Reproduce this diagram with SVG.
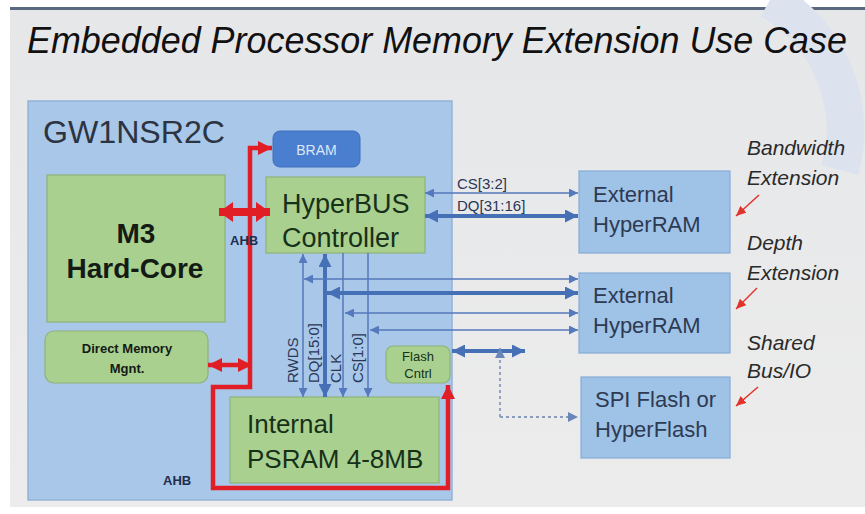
<svg xmlns="http://www.w3.org/2000/svg" width="865" height="514" viewBox="0 0 865 514">
<defs>
<linearGradient id="bg" x1="0" y1="0" x2="0" y2="1">
<stop offset="0" stop-color="#e6e7e9"/>
<stop offset="1" stop-color="#ececec"/>
</linearGradient>
<marker id="ab" viewBox="0 0 10 10" markerWidth="9" markerHeight="9" refX="10" refY="5" orient="auto-start-reverse" markerUnits="userSpaceOnUse"><path d="M0,0 L10,5 L0,10 z" fill="#5479bd"/></marker>
<marker id="abk" viewBox="0 0 10 10" markerWidth="13" markerHeight="13" refX="10" refY="5" orient="auto-start-reverse" markerUnits="userSpaceOnUse"><path d="M0,0 L10,5 L0,10 z" fill="#4670b6"/></marker>
<marker id="ad" viewBox="0 0 10 10" markerWidth="10" markerHeight="10" refX="10" refY="5" orient="auto-start-reverse" markerUnits="userSpaceOnUse"><path d="M0,0 L10,5 L0,10 z" fill="#6a86b8"/></marker>
<marker id="ar" viewBox="0 0 10 10" markerWidth="14" markerHeight="14" refX="10" refY="5" orient="auto-start-reverse" markerUnits="userSpaceOnUse"><path d="M0,0 L10,5 L0,10 z" fill="#e11d26"/></marker>
<marker id="arb" viewBox="0 0 10 10" markerWidth="14" markerHeight="20" refX="10" refY="5" orient="auto-start-reverse" markerUnits="userSpaceOnUse" preserveAspectRatio="none"><path d="M0,0 L10,5 L0,10 z" fill="#e11d26"/></marker>
<marker id="ars" viewBox="0 0 10 10" markerWidth="10" markerHeight="9" refX="10" refY="5" orient="auto-start-reverse" markerUnits="userSpaceOnUse" preserveAspectRatio="none"><path d="M0,0 L10,5 L0,10 z" fill="#e2322a"/></marker>
</defs>
<style>
text{font-family:"Liberation Sans",Arial,sans-serif}
.title{font-size:36px;font-style:italic;fill:#111}
.chip{fill:#a9c7e8;stroke:#93b3d8;stroke-width:1.5}
.green{fill:#a9d08e;stroke:#8fb27a;stroke-width:1.2}
.ext{fill:#9fc2e7;stroke:#87acd6;stroke-width:1.2}
.t27{font-size:27px;fill:#17301a}
.t26{font-size:26px;fill:#17301a}
.tb{font-weight:bold;fill:#141a14}
.tx{font-size:22px;fill:#2d3a52}
.lab{font-size:15px;fill:#2a3756}
.side{font-size:21px;font-style:italic;fill:#2a2a2a}
.thin{stroke:#5479bd;stroke-width:1.5;fill:none}
.thick{stroke:#4670b6;stroke-width:4;fill:none}
.red{stroke:#e11d26;fill:none}
</style>
<rect x="0" y="0" width="865" height="514" fill="#ffffff"/>
<rect x="10" y="9" width="855" height="498" fill="url(#bg)"/>
<rect x="10" y="7" width="855" height="3" fill="#5a6880"/>
<path d="M 770 0 A 150 150 0 0 1 840 170" fill="none" stroke="#dde3ee" stroke-width="38"/>
<text class="title" x="27" y="53" textLength="820" lengthAdjust="spacingAndGlyphs">Embedded Processor Memory Extension Use Case</text>

<g id="chip">
<rect class="chip" x="28" y="101" width="424" height="399"/>
<text x="43" y="143" style="font-size:32px;fill:#2c3442" textLength="182" lengthAdjust="spacingAndGlyphs">GW1NSR2C</text>
</g>
<g id="bram">
<rect x="273" y="131" width="87" height="36" rx="7" fill="#4a7ecf" stroke="#3f6fbd"/>
<text x="316.5" y="155" text-anchor="middle" style="font-size:14px;fill:#dce7f7">BRAM</text>
</g>
<g id="m3">
<rect class="green" x="47" y="175" width="178" height="147"/>
<text class="tb" x="136" y="243" text-anchor="middle" style="font-size:28px">M3</text>
<text class="tb" x="135" y="278" text-anchor="middle" style="font-size:28px">Hard-Core</text>
</g>
<g id="dmm">
<rect class="green" x="45" y="331" width="163" height="52" rx="9"/>
<text class="tb" x="127" y="353" text-anchor="middle" style="font-size:13px">Direct Memory</text>
<text class="tb" x="127" y="373" text-anchor="middle" style="font-size:13px">Mgnt.</text>
</g>
<g id="hyperbus">
<rect class="green" x="266" y="177" width="159" height="76"/>
<text class="t27" x="282" y="213">HyperBUS</text>
<text class="t27" x="282" y="247">Controller</text>
</g>
<g id="psram">
<rect class="green" x="230" y="397" width="209" height="86"/>
<text class="t26" x="247" y="433">Internal</text>
<text class="t26" x="247" y="468">PSRAM 4-8MB</text>
</g>
<g id="flash-cntrl">
<rect class="green" x="386" y="346" width="64" height="37" rx="7"/>
<text x="418" y="361" text-anchor="middle" style="font-size:13px;fill:#17301a">Flash</text>
<text x="418" y="378" text-anchor="middle" style="font-size:13px;fill:#17301a">Cntrl</text>
</g>
<g id="ext1">
<rect class="ext" x="579" y="171" width="151" height="82"/>
<text class="tx" x="593" y="202">External</text>
<text class="tx" x="593" y="232">HyperRAM</text>
</g>
<g id="ext2">
<rect class="ext" x="579" y="273" width="151" height="80"/>
<text class="tx" x="593" y="303">External</text>
<text class="tx" x="593" y="333">HyperRAM</text>
</g>
<g id="spi">
<rect class="ext" x="581" y="377" width="149" height="81"/>
<text class="tx" x="595" y="407">SPI Flash or</text>
<text class="tx" x="595" y="437">HyperFlash</text>
</g>
<g id="labels">
<text class="side" x="747" y="155">Bandwidth</text>
<text class="side" x="747" y="185">Extension</text>
<text class="side" x="747" y="250">Depth</text>
<text class="side" x="747" y="280">Extension</text>
<text class="side" x="747" y="350">Shared</text>
<text class="side" x="747" y="378">Bus/IO</text>
</g>

<g id="connectors">
<path class="red" stroke-width="4.5" d="M 448 385 L 448 488 L 213 488 L 213 387 L 250 387 L 250 148 L 272 148" marker-start="url(#ar)" marker-end="url(#ar)"/>
<line class="red" stroke-width="8" x1="219" y1="212" x2="270" y2="212" marker-start="url(#arb)" marker-end="url(#arb)"/>
<line class="red" stroke-width="4.5" x1="208" y1="365" x2="252" y2="365" marker-start="url(#ar)" marker-end="url(#ar)"/>
<line class="thin" x1="425" y1="193" x2="578" y2="193" marker-start="url(#ab)" marker-end="url(#ab)"/>
<line class="thick" x1="425" y1="216" x2="578" y2="216" marker-start="url(#abk)" marker-end="url(#abk)"/>
<line class="thin" x1="303" y1="254" x2="303" y2="397" marker-start="url(#ab)" marker-end="url(#ab)"/>
<line class="thick" x1="325" y1="254" x2="325" y2="397" marker-start="url(#abk)" marker-end="url(#abk)"/>
<line class="thin" x1="343" y1="253" x2="343" y2="397" marker-end="url(#ab)"/>
<line class="thin" x1="368" y1="253" x2="368" y2="397" marker-end="url(#ab)"/>
<line class="thin" x1="304" y1="279" x2="578" y2="279" marker-start="url(#ab)" marker-end="url(#ab)"/>
<line class="thick" x1="327" y1="293" x2="578" y2="293" marker-start="url(#abk)" marker-end="url(#abk)"/>
<line class="thin" x1="345" y1="313" x2="578" y2="313" marker-start="url(#ab)" marker-end="url(#ab)"/>
<line class="thin" x1="370" y1="330" x2="578" y2="330" marker-start="url(#ab)" marker-end="url(#ab)"/>
<line class="thick" x1="452" y1="351" x2="525" y2="351" marker-start="url(#abk)" marker-end="url(#abk)"/>
<line stroke="#8a9cbc" stroke-width="1.8" stroke-dasharray="3,3" x1="500" y1="417" x2="500" y2="348" marker-end="url(#ad)"/>
<line stroke="#8a9cbc" stroke-width="1.8" stroke-dasharray="3,3" x1="500" y1="417" x2="578" y2="417" marker-end="url(#ad)"/>
<line stroke="#e2322a" stroke-width="1.5" x1="759" y1="195" x2="736" y2="216" marker-end="url(#ars)"/>
<line stroke="#e2322a" stroke-width="1.5" x1="757" y1="288" x2="736" y2="309" marker-end="url(#ars)"/>
<line stroke="#e2322a" stroke-width="1.5" x1="758" y1="387" x2="736" y2="406" marker-end="url(#ars)"/>
<text class="lab" x="457" y="189">CS[3:2]</text>
<text class="lab" x="457" y="211">DQ[31:16]</text>
<text class="lab" transform="translate(298,383) rotate(-90)">RWDS</text>
<text class="lab" transform="translate(319,383) rotate(-90)">DQ[15:0]</text>
<text class="lab" transform="translate(341,383) rotate(-90)">CLK</text>
<text class="lab" transform="translate(363,383) rotate(-90)">CS[1:0]</text>
<text x="230" y="245" style="font-size:13px;font-weight:bold;fill:#1f2d4f">AHB</text>
<text x="163" y="485" style="font-size:13px;font-weight:bold;fill:#1f2d4f">AHB</text>
</g>
</svg>
